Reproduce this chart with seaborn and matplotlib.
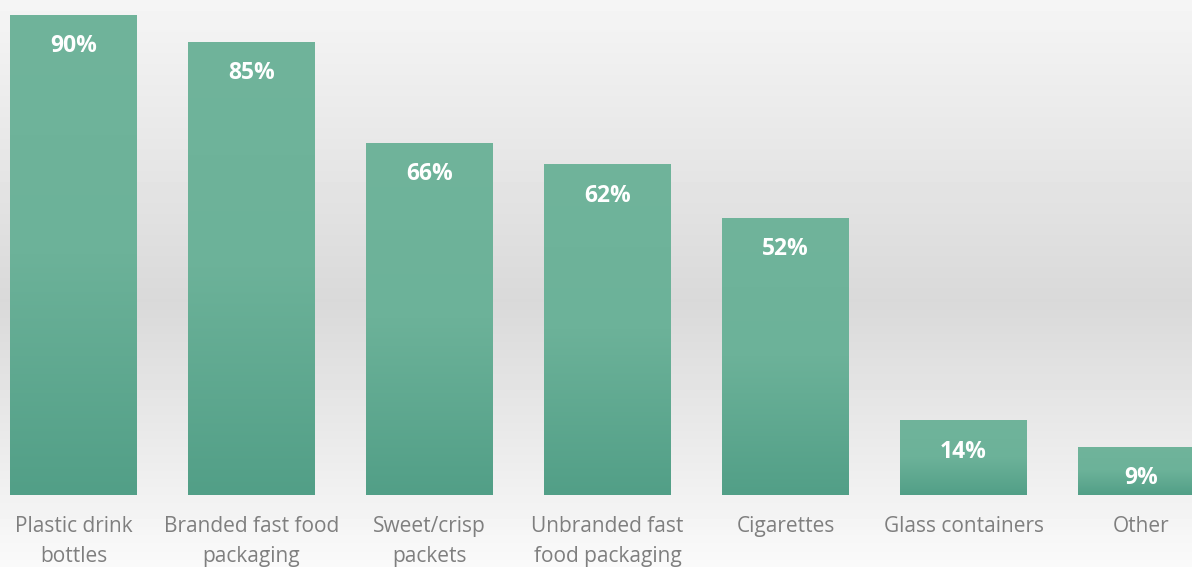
import numpy as np
import matplotlib
matplotlib.use("Agg")
import matplotlib.pyplot as plt
from matplotlib.colors import LinearSegmentedColormap
import seaborn as sns
import pandas as pd

# data
categories = ["Plastic drink\nbottles", "Branded fast food\npackaging", "Sweet/crisp\npackets",
              "Unbranded fast\nfood packaging", "Cigarettes", "Glass containers", "Other"]
values = [90, 85, 66, 62, 52, 14, 9]
labels = ["90%", "85%", "66%", "62%", "52%", "14%", "9%"]

df = pd.DataFrame({"category": categories, "value": values})

sns.set_style("white")
plt.rcParams["font.family"] = ["Open Sans", "DejaVu Sans"]

fig = plt.figure(figsize=(11.92, 5.67), dpi=100)

# background gradient (light top, grey middle, light bottom)
bg = fig.add_axes([0, 0, 1, 1], zorder=-5)
rows = np.arange(567)
grey = np.interp(rows, [0, 300, 567], [245, 217, 250]) / 255.0
bg_img = np.repeat(grey.reshape(-1, 1), 10, axis=1)
bg.imshow(bg_img, cmap="gray", vmin=0, vmax=1, aspect="auto", extent=[0, 1, 0, 1], origin="upper")
bg.set_axis_off()

ax = fig.add_axes([0, 0.127, 1, 0.873])
ax.patch.set_alpha(0)

sns.barplot(data=df, x="category", y="value", ax=ax, width=0.713, color="#62aa91",
            edgecolor="none", linewidth=0)

ax.set_xlim(-0.4129, 6.2837)
ax.set_ylim(0, 92.81)

# gradient fill per bar
cmap = LinearSegmentedColormap.from_list("bar", ["#529f87", "#6cb299", "#70b49b"])
grad = np.linspace(0, 1, 256).reshape(-1, 1)
for p in ax.patches:
    x0, y0 = p.get_x(), p.get_y()
    w, h = p.get_width(), p.get_height()
    im = ax.imshow(grad, cmap=cmap, aspect="auto", origin="lower",
                   extent=[x0, x0 + w, y0, y0 + h], zorder=2)
    im.set_clip_path(p)
    p.set_facecolor("none")

ax.set_xlim(-0.4129, 6.2837)
ax.set_ylim(0, 92.81)

for i, (v, lab) in enumerate(zip(values, labels)):
    ax.annotate(lab, xy=(i, v), xytext=(0, -22.5), textcoords="offset points",
                ha="center", va="center", color="white", fontsize=16.5, fontweight="bold", zorder=3)

ax.set_xlabel("")
ax.set_ylabel("")
ax.set_yticks([])
ax.tick_params(axis="x", length=0, pad=15, labelsize=15, labelcolor="#7f7f7f")
for t in ax.get_xticklabels():
    t.set_linespacing(1.6)
sns.despine(ax=ax, left=True, bottom=True)

fig.savefig("out.png", dpi=100)
